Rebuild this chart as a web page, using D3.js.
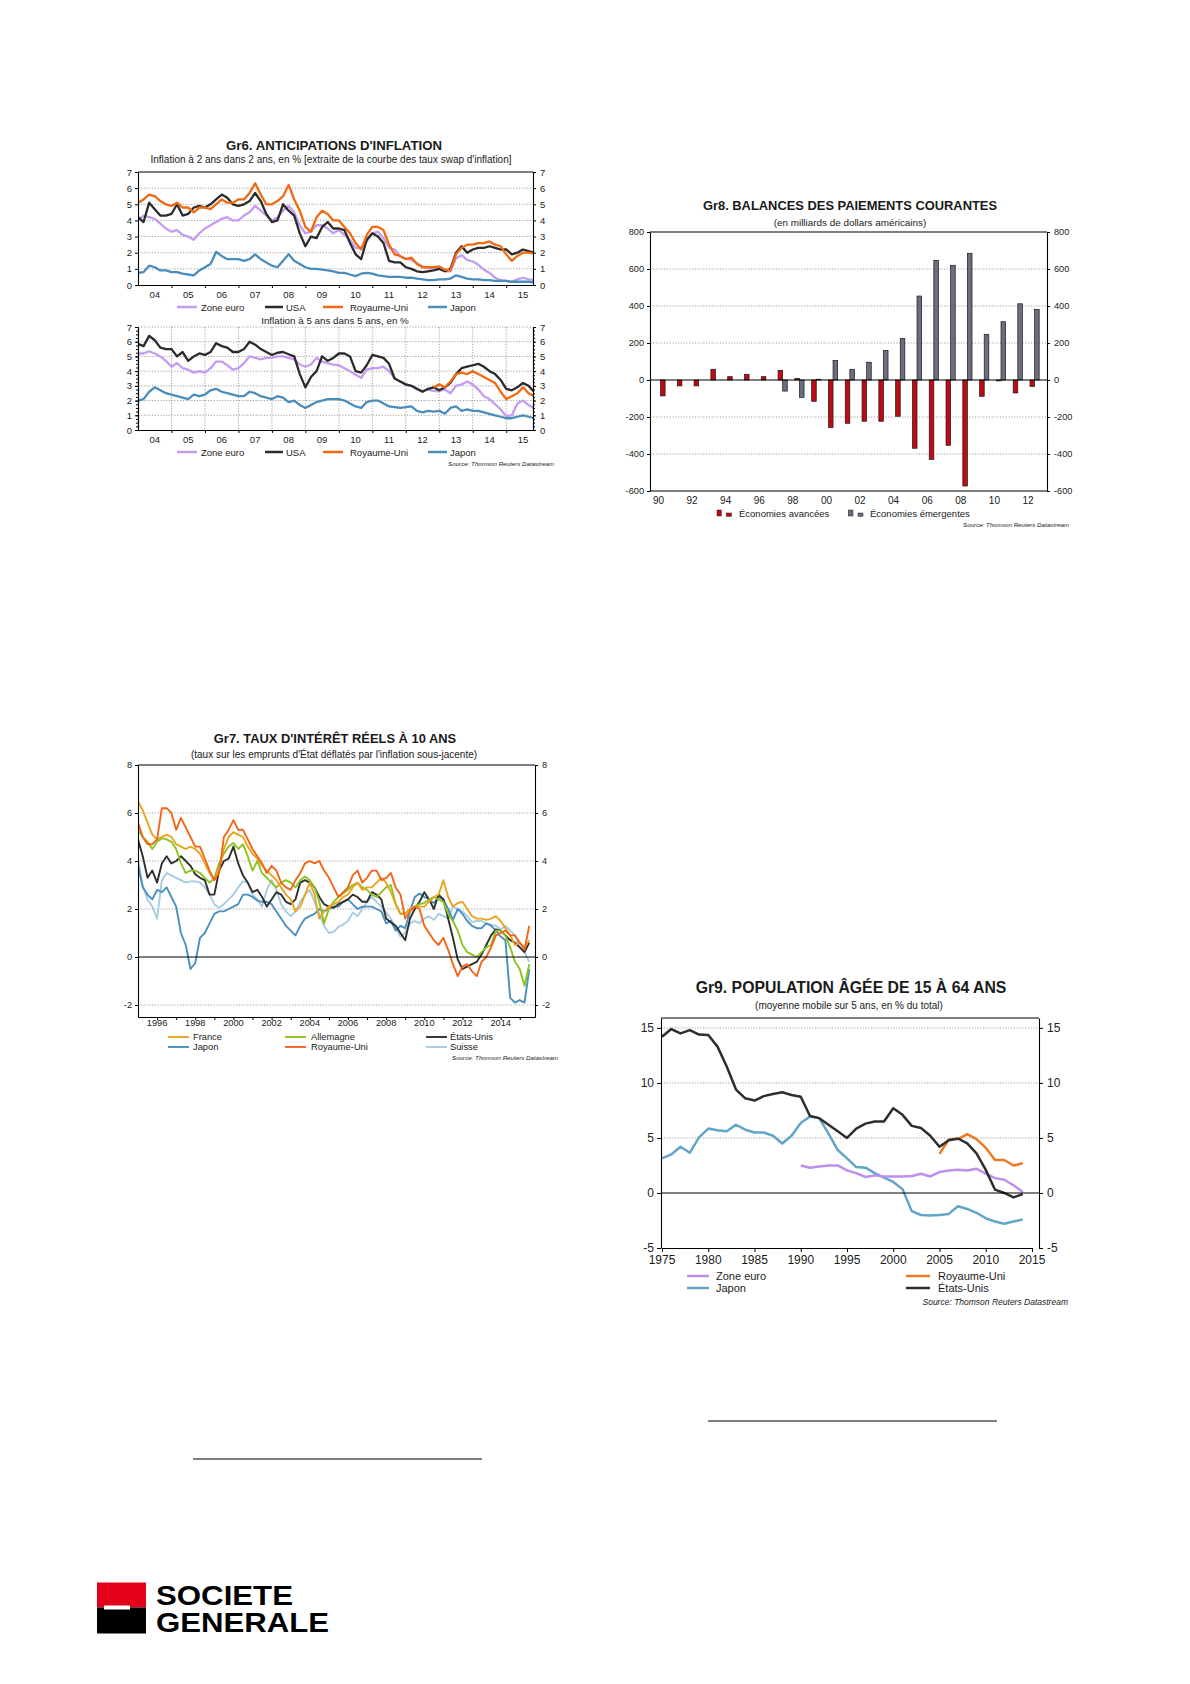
<!DOCTYPE html>
<html>
<head>
<meta charset="utf-8">
<script src="https://cdn.jsdelivr.net/npm/d3@7"></script>
<style>
body { margin: 0; background: #fff; }
svg { display: block; }
</style>
</head>
<body>
<svg id="page" width="1190" height="1684"></svg>
<script>
var FONT = '"Liberation Sans", Arial, Helvetica, sans-serif';
var svg = d3.select('#page');
svg.append('rect').attr('width', 1190).attr('height', 1684).attr('fill', '#fff');

// ---------------- Gr6 data : bimonthly points, Jan 2004 -> Nov 2015
var gr6Start = 2004, gr6Step = 1 / 6;
var gr6Names = ['Zone euro', 'USA', 'Royaume-Uni', 'Japon'];
var gr6Colors = ['#C49CF2', '#2B2B2B', '#F26A10', '#4A8DBB'];
var gr6YearLabels = ['04', '05', '06', '07', '08', '09', '10', '11', '12', '13', '14', '15'];

// inflation 2 ans dans 2 ans
var gr6TopEuro = [4.0, 4.3, 4.2, 4.1, 3.8, 3.5, 3.3, 3.4, 3.1, 3.0, 2.8, 3.2, 3.5, 3.7, 3.9, 4.1, 4.2, 4.0,
  4.0, 4.3, 4.5, 4.9, 4.6, 4.3, 4.0, 4.2, 4.6, 4.9, 4.5, 3.7, 3.2, 3.3, 3.7, 3.7, 3.5, 3.2,
  3.4, 3.1, 2.8, 2.3, 2.3, 2.7, 3.2, 3.3, 2.9, 2.3, 2.2, 1.75, 1.65, 1.55, 1.35, 1.15, 1.05, 1.05,
  1.05, 0.85, 0.85, 1.65, 1.85, 1.55, 1.45, 1.25, 0.95, 0.75, 0.45, 0.3, 0.25, 0.2, 0.35, 0.45, 0.35, 0.3];
var gr6TopUsa = [4.2, 3.9, 5.1, 4.7, 4.3, 4.3, 4.4, 5.0, 4.3, 4.4, 4.8, 4.9, 4.8, 5.0, 5.3, 5.6, 5.4, 5.0,
  4.9, 5.0, 5.2, 5.7, 5.2, 4.4, 3.9, 4.0, 5.0, 4.6, 4.3, 3.2, 2.4, 3.0, 2.9, 3.6, 3.9, 3.5,
  3.5, 3.4, 2.6, 1.9, 1.6, 2.8, 3.2, 3.0, 2.6, 1.5, 1.4, 1.4, 1.1, 1.0, 0.85, 0.8, 0.85, 0.9,
  1.0, 0.85, 1.0, 2.0, 2.4, 2.0, 2.2, 2.3, 2.3, 2.4, 2.3, 2.2, 2.2, 1.9, 2.0, 2.2, 2.1, 2.0];
var gr6TopUk = [5.1, 5.3, 5.6, 5.5, 5.2, 5.0, 4.9, 5.1, 4.8, 4.8, 4.5, 4.8, 4.8, 4.7, 5.0, 5.3, 5.1, 5.1,
  5.3, 5.3, 5.7, 6.3, 5.6, 5.0, 5.0, 5.2, 5.5, 6.2, 5.3, 4.6, 3.6, 3.3, 4.2, 4.6, 4.4, 4.0,
  4.0, 3.6, 3.2, 2.6, 2.2, 3.1, 3.6, 3.6, 3.4, 2.5, 1.9, 1.8, 1.6, 1.7, 1.3, 1.1, 1.1, 1.1,
  1.15, 0.95, 0.9, 1.9, 2.3, 2.5, 2.5, 2.6, 2.6, 2.7, 2.5, 2.4, 1.9, 1.5, 1.8, 2.0, 2.0, 1.95];
var gr6TopJapon = [0.75, 0.8, 1.2, 1.1, 0.9, 0.9, 0.8, 0.8, 0.7, 0.65, 0.6, 0.9, 1.1, 1.3, 2.05, 1.8, 1.6, 1.6,
  1.6, 1.5, 1.6, 1.9, 1.6, 1.4, 1.2, 1.1, 1.5, 1.9, 1.5, 1.3, 1.1, 1.0, 1.0, 0.95, 0.9, 0.85,
  0.75, 0.75, 0.65, 0.55, 0.7, 0.75, 0.7, 0.6, 0.55, 0.5, 0.5, 0.5, 0.45, 0.45, 0.4, 0.35, 0.3, 0.3,
  0.35, 0.35, 0.4, 0.6, 0.5, 0.4, 0.35, 0.35, 0.3, 0.3, 0.25, 0.25, 0.25, 0.2, 0.2, 0.2, 0.2, 0.15];

// inflation 5 ans dans 5 ans
var gr6BotEuro = [5.2, 5.2, 5.35, 5.2, 5.0, 4.7, 4.3, 4.55, 4.2, 4.1, 3.9, 4.0, 3.9, 4.2, 4.65, 4.65, 4.4, 4.1,
  4.2, 4.55, 5.0, 4.9, 4.8, 4.9, 4.9, 5.0, 5.0, 4.9, 4.8, 4.45, 4.3, 4.45, 4.9, 4.65, 4.55, 4.45,
  4.4, 4.2, 4.0, 3.75, 3.55, 4.1, 4.2, 4.2, 4.3, 4.0, 3.5, 3.3, 3.1, 3.0, 2.75, 2.65, 2.75, 2.65,
  2.65, 2.75, 2.5, 3.0, 3.1, 3.3, 3.1, 2.75, 2.3, 2.1, 1.75, 1.4, 0.95, 1.0, 1.8, 2.0, 1.7, 1.5];
var gr6BotUsa = [5.85, 5.7, 6.4, 6.1, 5.6, 5.5, 5.5, 5.0, 5.3, 4.7, 5.0, 5.2, 5.1, 5.3, 5.9, 5.7, 5.6, 5.3,
  5.3, 5.5, 6.0, 5.8, 5.5, 5.3, 5.1, 5.25, 5.3, 5.15, 5.0, 3.8, 2.9, 3.6, 4.0, 5.0, 4.7, 4.9,
  5.2, 5.2, 5.0, 4.0, 3.9, 4.4, 5.1, 5.0, 4.9, 4.5, 3.5, 3.3, 3.1, 3.0, 2.8, 2.6, 2.8, 2.9,
  2.7, 2.9, 3.2, 3.8, 4.2, 4.3, 4.4, 4.5, 4.3, 4.0, 3.8, 3.4, 2.8, 2.7, 2.9, 3.2, 3.0, 2.6];
var gr6BotUk = [null, null, null, null, null, null, null, null, null, null, null, null, null, null, null, null, null, null,
  null, null, null, null, null, null, null, null, null, null, null, null, null, null, null, null, null, null,
  null, null, null, null, null, null, null, null, null, null, null, null, null, null, null, null, null, 2.9,
  3.1, 2.9, 3.3, 3.8, 3.9, 3.8, 4.0, 3.8, 3.6, 3.4, 3.2, 2.6, 2.1, 2.3, 2.5, 2.9, 2.5, 2.3];
var gr6BotJapon = [2.0, 2.1, 2.6, 2.9, 2.7, 2.5, 2.4, 2.3, 2.2, 2.1, 2.4, 2.3, 2.4, 2.7, 2.8, 2.6, 2.5, 2.4,
  2.3, 2.3, 2.6, 2.5, 2.3, 2.2, 2.1, 2.3, 2.2, 1.9, 2.0, 1.7, 1.5, 1.7, 1.9, 2.0, 2.1, 2.1,
  2.1, 2.0, 1.8, 1.6, 1.5, 1.9, 2.0, 2.0, 1.8, 1.6, 1.55, 1.5, 1.55, 1.6, 1.3, 1.2, 1.3, 1.25,
  1.3, 1.1, 1.5, 1.6, 1.3, 1.4, 1.3, 1.3, 1.2, 1.1, 1.0, 0.9, 0.8, 0.8, 0.9, 1.0, 0.9, 0.8];

// ---------------- Gr7 data : quarterly, 1995Q1 -> 2015Q3
var gr7Start = 1995, gr7Step = 0.25;
var gr7Names = ['France', 'Japon', 'Allemagne', 'Royaume-Uni', 'États-Unis', 'Suisse'];
var gr7Colors = ['#E9A31F', '#4A90BE', '#8CC31E', '#F2651A', '#2F2F2F', '#A6CBE2'];
var gr7France = [6.5, 6.1, 5.6, 5.1, 4.9, 5.0, 5.1, 5.0, 4.7, 4.6, 4.5, 4.6, 4.5, 4.3, 3.9, 3.5,
  3.2, 3.7, 4.5, 5.0, 5.2, 5.1, 5.0, 4.6, 4.3, 4.1, 3.8, 3.6, 3.4, 3.2, 2.9, 2.6,
  2.4, 1.9, 2.1, 2.6, 3.1, 2.6, 1.6, 1.9, 2.1, 2.2, 2.3, 2.5, 2.6, 2.9, 3.1, 2.8,
  2.9, 2.9, 3.1, 3.3, 3.1, 2.7, 2.2, 1.8, 1.8, 2.0, 2.1, 2.1, 2.1, 2.3, 2.5, 2.6,
  3.2, 2.5, 2.1, 2.25, 2.3, 2.0, 1.7, 1.6, 1.6, 1.55, 1.6, 1.7, 1.5, 1.2, 0.9, 0.5,
  0.6, 0.4, 0.7];
var gr7Japon = [3.8, 2.9, 2.6, 2.4, 2.8, 2.7, 2.9, 2.5, 2.1, 1.0, 0.5, -0.5, -0.25, 0.8, 1.0, 1.4,
  1.8, 1.9, 1.9, 2.0, 2.1, 2.2, 2.6, 2.6, 2.5, 2.35, 2.3, 2.3, 2.2, 1.9, 1.6, 1.3,
  1.1, 0.9, 1.3, 1.6, 1.7, 1.8, 2.0, 1.9, 2.0, 2.1, 2.1, 2.3, 2.4, 2.2, 2.0, 2.1,
  2.1, 2.1, 2.0, 1.9, 1.4, 1.5, 1.1, 1.3, 1.2, 1.9, 2.5, 2.65, 2.5, 2.4, 2.25, 2.5,
  2.4, 2.0, 1.55, 2.0, 1.8, 1.5, 1.3, 1.2, 1.2, 1.4, 1.3, 1.1, 0.85, 0.7, -1.7, -1.9,
  -1.8, -1.9, -0.5];
var gr7Allemagne = [5.3, 5.0, 4.8, 4.5, 4.8, 4.95, 4.9, 4.8, 4.5, 3.9, 3.5, 3.6, 3.6, 3.5, 3.3, 3.1,
  3.3, 3.9, 4.3, 4.6, 4.75, 4.5, 4.7, 4.2, 3.6, 4.0, 3.5, 3.3, 3.1, 2.9, 3.1, 3.2,
  3.1, 2.9, 3.2, 3.35, 3.2, 2.9, 2.3, 1.4, 2.0, 2.3, 2.5, 2.65, 2.8, 3.0, 3.1, 2.9,
  2.8, 2.6, 2.5, 2.7, 2.9, 3.0, 2.2, 1.8, 1.8, 2.0, 2.1, 2.2, 2.25, 2.4, 2.5, 2.4,
  2.3, 1.8, 1.5, 1.1, 0.5, 0.2, 0.1, 0.0, 0.2, 0.4, 0.5, 1.1, 1.1, 0.9, 0.4, -0.2,
  -0.5, -1.2, -0.3];
var gr7RoyaumeUni = [5.6, 5.0, 4.7, 4.7, 4.9, 6.2, 6.2, 6.0, 5.3, 5.8, 5.4, 5.0, 4.6, 4.6, 4.1, 3.6,
  3.2, 3.5, 5.0, 5.3, 5.7, 5.3, 5.3, 4.9, 4.5, 4.2, 3.9, 3.5, 3.8, 3.6, 3.1, 2.9,
  2.8, 3.2, 3.5, 3.9, 4.0, 3.9, 4.0, 3.6, 3.3, 2.9, 2.5, 2.7, 2.9, 3.4, 3.6, 3.1,
  3.3, 3.6, 3.6, 3.2, 3.3, 3.5, 2.9, 2.6, 1.6, 1.9, 2.1, 2.0, 1.3, 1.0, 0.7, 0.5,
  0.8, 0.3, -0.3, -0.8, -0.4, -0.3, -0.6, -0.8, -0.2, 0.0, 0.4, 0.9, 1.0, 1.1, 0.9, 0.9,
  0.6, 0.3, 1.3];
var gr7EtatsUnis = [4.9, 4.2, 3.3, 3.6, 3.1, 3.9, 4.2, 3.9, 4.0, 4.2, 4.0, 3.8, 3.45, 3.3, 3.2, 2.6,
  2.6, 3.6, 4.0, 4.1, 4.6, 3.9, 3.4, 3.1, 2.7, 2.8, 2.5, 2.1, 2.4, 2.7, 2.6, 2.3,
  2.2, 2.4, 3.1, 3.2, 3.1, 2.9, 2.5, 2.2, 2.1, 2.05, 2.2, 2.3, 2.4, 2.6, 2.5, 2.3,
  2.3, 2.7, 2.6, 2.4, 1.6, 1.45, 1.3, 1.0, 0.7, 1.6, 2.0, 2.3, 2.7, 2.4, 2.0, 2.6,
  2.4, 1.6, 0.8, -0.1, -0.5, -0.4, -0.3, -0.2, 0.1, 0.5, 0.9, 1.15, 1.1, 0.9, 0.7, 0.6,
  0.4, 0.2, 0.6];
var gr7Suisse = [4.05, 3.0, 2.4, 2.1, 1.6, 3.2, 3.5, 3.4, 3.3, 3.2, 3.1, 3.15, 3.15, 3.1, 2.9, 2.6,
  2.2, 2.05, 2.2, 2.4, 2.6, 2.9, 3.15, 3.1, 2.6, 2.4, 2.1, 2.8, 3.2, 2.8, 2.2, 1.9,
  1.7, 1.9, 2.3, 2.6, 2.8, 2.3, 1.8, 1.3, 1.0, 1.05, 1.25, 1.35, 1.5, 1.85, 1.7, 2.0,
  2.3, 2.5, 2.3, 2.1, 1.85, 1.6, 1.2, 0.85, 1.0, 1.4, 1.5, 1.4, 1.6, 1.7, 1.55, 1.8,
  1.7, 1.6, 2.1, 2.0, 1.9, 1.7, 1.45, 1.5, 1.5, 1.4, 1.35, 1.3, 1.15, 1.3, 1.1, 0.9,
  0.4, 0.2, -0.2];

// ---------------- Gr8 data : annual, en milliards de dollars
var gr8Years = d3.range(1990, 2013);
var gr8Avancees = [-86, -32, -32, 58, 18, 31, 18, 52, 9, -115, -256, -234, -223, -223, -196, -369, -429, -353, -573, -88, -5, -70, -35];
var gr8Emergentes = [0, 0, 0, 0, 0, 0, 0, -60, -94, 4, 106, 58, 96, 160, 225, 454, 647, 620, 685, 247, 315, 412, 382];
var gr8YearLabels = ['90', '92', '94', '96', '98', '00', '02', '04', '06', '08', '10', '12'];

// ---------------- Gr9 data : annual
var gr9UsaStart = 1975;
var gr9Usa = [14.2, 14.9, 14.5, 14.8, 14.4, 14.35, 13.3, 11.5, 9.4, 8.6,
  8.4, 8.8, 9.0, 9.15, 8.9, 8.75, 7.0, 6.8, 6.2, 5.6,
  5.0, 5.85, 6.3, 6.5, 6.5, 7.7, 7.1, 6.1, 5.9, 5.2,
  4.2, 4.8, 4.95, 4.5, 3.6, 2.1, 0.3, 0.0, -0.4, -0.1];
var gr9JaponStart = 1975;
var gr9Japon = [3.15, 3.5, 4.2, 3.65, 5.05, 5.85, 5.7, 5.6, 6.2, 5.75,
  5.5, 5.5, 5.2, 4.5, 5.2, 6.35, 6.95, 6.8, 5.4, 3.9,
  3.15, 2.35, 2.3, 1.8, 1.4, 1.0, 0.35, -1.65, -2.0, -2.05,
  -2.0, -1.9, -1.2, -1.45, -1.8, -2.3, -2.6, -2.8, -2.6, -2.4];
var gr9EuroStart = 1990;
var gr9Euro = [2.5, 2.3, 2.4, 2.5, 2.5, 2.05, 1.8, 1.45, 1.6, 1.5,
  1.5, 1.5, 1.55, 1.75, 1.5, 1.9, 2.05, 2.1, 2.05, 2.2,
  1.75, 1.35, 1.2, 0.7, 0.1];
var gr9UkStart = 2005;
var gr9Uk = [3.55, 4.85, 4.9, 5.35, 4.9, 4.1, 3.0, 3.0, 2.5, 2.7];
var gr9XTicks = [1975, 1980, 1985, 1990, 1995, 2000, 2005, 2010, 2015];

// ---------------- helpers
function txt(x, y, s, size, opts) {
  opts = opts || {};
  var t = svg.append('text').attr('x', x).attr('y', y).text(s)
    .attr('font-size', size).attr('font-family', FONT)
    .attr('text-anchor', opts.anchor || 'middle')
    .attr('dominant-baseline', 'central')
    .attr('fill', opts.fill || '#1a1a1a');
  if (opts.bold) t.attr('font-weight', 'bold');
  if (opts.italic) t.attr('font-style', 'italic');
  return t;
}

function line(x1, y1, x2, y2, opts) {
  opts = opts || {};
  var l = svg.append('line').attr('x1', x1).attr('y1', y1).attr('x2', x2).attr('y2', y2)
    .attr('stroke', opts.color || '#000').attr('stroke-width', opts.width || 1);
  if (opts.dotted) l.attr('stroke', '#8a8a8a').attr('stroke-width', 0.8).attr('stroke-dasharray', '1.2,1.6');
  return l;
}

function styleAxis(a, size) {
  a.attr('font-family', FONT).attr('font-size', size);
  a.select('.domain').attr('stroke', '#000').attr('stroke-width', 1.1);
  a.selectAll('.tick line').attr('stroke', '#000');
  a.selectAll('.tick text').attr('fill', '#222');
  return a;
}

function yAxes(y, xl, xr, ticks, size, tickLen) {
  var fmt = function (d) { return String(d); };
  var al = svg.append('g').attr('transform', 'translate(' + xl + ',0)')
    .call(d3.axisLeft(y).tickValues(ticks).tickSize(tickLen).tickSizeOuter(0).tickPadding(3).tickFormat(fmt));
  var ar = svg.append('g').attr('transform', 'translate(' + xr + ',0)')
    .call(d3.axisRight(y).tickValues(ticks).tickSize(tickLen).tickSizeOuter(0).tickPadding(4).tickFormat(fmt));
  styleAxis(al, size);
  styleAxis(ar, size);
}

var clipCount = 0;
function clipRect(x0, y0, x1, y1) {
  var id = 'clip' + (clipCount++);
  svg.append('clipPath').attr('id', id).append('rect')
    .attr('x', x0).attr('y', y0 - 3).attr('width', x1 - x0).attr('height', y1 - y0 + 6);
  return id;
}

function drawSeries(x, y, start, step, values, color, width, clipId) {
  var pts = values.map(function (v, i) { return { t: start + i * step, v: v }; });
  var gen = d3.line().defined(function (d) { return d.v !== null; })
    .x(function (d) { return x(d.t); }).y(function (d) { return y(d.v); });
  svg.append('path').datum(pts).attr('d', gen)
    .attr('fill', 'none').attr('stroke', color).attr('stroke-width', width)
    .attr('stroke-linejoin', 'round').attr('clip-path', 'url(#' + clipId + ')');
}

function legendItem(x1, x2, tx, y, color, label, size, width) {
  line(x1, y, x2, y, { color: color, width: width });
  txt(tx, y, label, size, { anchor: 'start' });
}

// ================= Gr6
var g6L = 138, g6R = 533;
var g6x = d3.scaleLinear().domain([2004, 2015.8]).range([g6L, g6R]);

function gr6Panel(y0, y1, data, minor) {
  var y = d3.scaleLinear().domain([0, 7]).range([y1, y0]);
  var gridVals = minor ? [1, 2, 3, 4, 5, 6, 7] : [1, 2, 3, 4, 5, 6];
  gridVals.forEach(function (v) { line(g6L, y(v), g6R, y(v), { dotted: true }); });
  if (minor) {
    d3.range(2005, 2016).forEach(function (t) { line(g6x(t), y0, g6x(t), y1, { dotted: true }); });
  } else {
    line(g6L, y0, g6R, y0, { width: 1.1 });
  }
  var cid = clipRect(g6L, y0, g6R, y1);
  data.forEach(function (vals, i) {
    drawSeries(g6x, y, gr6Start, gr6Step, vals, gr6Colors[i], 2.3, cid);
  });
  yAxes(y, g6L, g6R, d3.range(0, 8), 9.5, 3);
  if (minor) {
    var mt = d3.range(0, 7.01, 0.25);
    styleAxis(svg.append('g').attr('transform', 'translate(' + g6L + ',0)')
      .call(d3.axisLeft(y).tickValues(mt).tickSize(2).tickSizeOuter(0).tickFormat('')), 9);
    styleAxis(svg.append('g').attr('transform', 'translate(' + g6R + ',0)')
      .call(d3.axisRight(y).tickValues(mt).tickSize(2).tickSizeOuter(0).tickFormat('')), 9);
  }
  var ax = svg.append('g').attr('transform', 'translate(0,' + y1 + ')')
    .call(d3.axisBottom(g6x).tickValues(d3.range(2005, 2016)).tickSize(3).tickSizeOuter(0).tickFormat(''));
  styleAxis(ax, 9.5);
  gr6YearLabels.forEach(function (lab, i) {
    txt(g6x(2004.5 + i), y1 + 9.5, lab, 9.5);
  });
}

txt(334, 145, "Gr6. ANTICIPATIONS D'INFLATION", 13.2, { bold: true });
txt(331, 159, "Inflation à 2 ans dans 2 ans, en % [extraite de la courbe des taux swap d'inflation]", 10);
gr6Panel(172, 285, [gr6TopEuro, gr6TopUsa, gr6TopUk, gr6TopJapon], false);

var g6LegX = [[177, 197, 201], [265, 283, 286], [323, 343, 350], [428, 447, 450]];
function gr6Legend(y) {
  gr6Names.forEach(function (n, i) {
    legendItem(g6LegX[i][0], g6LegX[i][1], g6LegX[i][2], y, gr6Colors[i], n, 9.5, 2.5);
  });
}
gr6Legend(307);
txt(335, 320, 'Inflation à 5 ans dans 5 ans, en %', 9.8);
gr6Panel(327, 430, [gr6BotEuro, gr6BotUsa, gr6BotUk, gr6BotJapon], true);
gr6Legend(452);
txt(554, 463, 'Source: Thomson Reuters Datastream', 6.2, { anchor: 'end', italic: true });

// ================= Gr8
var g8L = 650, g8R = 1047;
var g8y = d3.scaleLinear().domain([-600, 800]).range([491, 232]);
var g8x = d3.scaleLinear().domain([1990, 2012]).range([660.5, 1030]);
var barW = 4.6;

txt(850, 205, 'Gr8. BALANCES DES PAIEMENTS COURANTES', 12.9, { bold: true });
txt(850, 222, '(en milliards de dollars américains)', 9.9);
[600, 400, 200, -200, -400].forEach(function (v) { line(g8L, g8y(v), g8R, g8y(v), { dotted: true }); });

svg.append('g').selectAll('rect.adv').data(gr8Years).join('rect')
  .attr('x', function (d) { return g8x(d); })
  .attr('y', function (d, i) { return g8y(Math.max(0, gr8Avancees[i])); })
  .attr('width', barW)
  .attr('height', function (d, i) { return Math.abs(g8y(gr8Avancees[i]) - g8y(0)); })
  .attr('fill', '#BE0A14').attr('stroke', '#1a1a1a').attr('stroke-width', 0.7);
svg.append('g').selectAll('rect.emg').data(gr8Years.filter(function (d, i) { return gr8Emergentes[i] !== 0; })).join('rect')
  .attr('x', function (d) { return g8x(d) + barW; })
  .attr('y', function (d) { return g8y(Math.max(0, gr8Emergentes[d - 1990])); })
  .attr('width', barW)
  .attr('height', function (d) { return Math.abs(g8y(gr8Emergentes[d - 1990]) - g8y(0)); })
  .attr('fill', '#6B6D80').attr('stroke', '#1a1a1a').attr('stroke-width', 0.7);

line(g8L, g8y(0), g8R, g8y(0), { width: 1.2 });
line(g8L, g8y(800), g8R, g8y(800), { width: 1.1 });
line(g8L, g8y(-600), g8R, g8y(-600), { width: 1.1 });
yAxes(g8y, g8L, g8R, [-600, -400, -200, 0, 200, 400, 600, 800], 9.2, 3);
gr8YearLabels.forEach(function (lab, i) {
  txt(g8x(1990 + 2 * i) - 2, 500, lab, 10);
});
svg.append('rect').attr('x', 717).attr('y', 510).attr('width', 4.3).attr('height', 6).attr('fill', '#BE0A14').attr('stroke', '#222').attr('stroke-width', 0.5);
svg.append('rect').attr('x', 726.3).attr('y', 513).attr('width', 5.3).attr('height', 3.3).attr('fill', '#BE0A14').attr('stroke', '#222').attr('stroke-width', 0.5);
txt(739, 513, 'Économies avancées', 9.5, { anchor: 'start' });
svg.append('rect').attr('x', 848.3).attr('y', 510).attr('width', 4.7).attr('height', 6).attr('fill', '#6B6D80').attr('stroke', '#222').attr('stroke-width', 0.5);
svg.append('rect').attr('x', 858).attr('y', 513).attr('width', 5).attr('height', 3.3).attr('fill', '#6B6D80').attr('stroke', '#222').attr('stroke-width', 0.5);
txt(870, 513, 'Économies émergentes', 9.5, { anchor: 'start' });
txt(1069, 524, 'Source: Thomson Reuters Datastream', 6.2, { anchor: 'end', italic: true });

// ================= Gr7
var g7L = 138, g7R = 535;
var g7x = d3.scaleLinear().domain([1995, 2015.8]).range([g7L, g7R]);
var g7y = d3.scaleLinear().domain([-2.5, 8]).range([1017, 765]);

txt(335, 738, "Gr7. TAUX D'INTÉRÊT RÉELS À 10 ANS", 12.9, { bold: true });
txt(334, 754, "(taux sur les emprunts d'État déflatés par l'inflation sous-jacente)", 10);
[6, 4, 2, -2].forEach(function (v) { line(g7L, g7y(v), g7R, g7y(v), { dotted: true }); });
var cid7 = clipRect(g7L, 765, g7R, 1017);
var gr7Data = [gr7Suisse, gr7Japon, gr7EtatsUnis, gr7Allemagne, gr7France, gr7RoyaumeUni];
var gr7Col = [gr7Colors[5], gr7Colors[1], gr7Colors[4], gr7Colors[2], gr7Colors[0], gr7Colors[3]];
gr7Data.forEach(function (vals, i) {
  drawSeries(g7x, g7y, gr7Start, gr7Step, vals, gr7Col[i], 1.9, cid7);
});
line(g7L, g7y(0), g7R, g7y(0), { width: 1.1 });
line(g7L, g7y(8), g7R, g7y(8), { width: 1.1 });
yAxes(g7y, g7L, g7R, [-2, 0, 2, 4, 6, 8], 9.2, 3);
styleAxis(svg.append('g').attr('transform', 'translate(0,' + g7y(-2.5) + ')')
  .call(d3.axisBottom(g7x).tickValues(d3.range(1996, 2016)).tickSize(3).tickSizeOuter(0).tickFormat('')), 9.2);
d3.range(1996, 2015, 2).forEach(function (yr) { txt(g7x(yr), 1022.5, String(yr), 9.2); });

var g7Leg = [[168, 189, 193, 1037], [168, 189, 193, 1047], [285, 306, 311, 1037], [285, 306, 311, 1047], [426, 447, 450, 1037], [426, 447, 450, 1047]];
gr7Names.forEach(function (n, i) {
  legendItem(g7Leg[i][0], g7Leg[i][1], g7Leg[i][2], g7Leg[i][3], gr7Colors[i], n, 9.3, 1.9);
});
txt(558, 1057, 'Source: Thomson Reuters Datastream', 6.2, { anchor: 'end', italic: true });

// ================= Gr9
var g9L = 661, g9R = 1039;
var g9x = d3.scaleLinear().domain([1975, 2015]).range([662, 1032]);
var g9y = d3.scaleLinear().domain([-5, 15.9]).range([1248, 1018]);

txt(851, 987, 'Gr9. POPULATION ÂGÉE DE 15 À 64 ANS', 15.8, { bold: true });
txt(849, 1005, '(moyenne mobile sur 5 ans, en % du total)', 10);
[15, 10, 5].forEach(function (v) { line(g9L, g9y(v), g9R, g9y(v), { dotted: true }); });
var cid9 = clipRect(g9L, 1018, g9R, 1248);
drawSeries(g9x, g9y, gr9JaponStart, 1, gr9Japon, '#62A5C9', 2.5, cid9);
drawSeries(g9x, g9y, gr9EuroStart, 1, gr9Euro, '#BF8FF0', 2.5, cid9);
drawSeries(g9x, g9y, gr9UkStart, 1, gr9Uk, '#F07A24', 2.5, cid9);
drawSeries(g9x, g9y, gr9UsaStart, 1, gr9Usa, '#2E2E2E', 2.5, cid9);
line(g9L, g9y(0), g9R, g9y(0), { width: 1.1 });
line(g9L, 1018, g9R, 1018, { width: 1.1 });
yAxes(g9y, g9L, g9R, [-5, 0, 5, 10, 15], 12, 4);
styleAxis(svg.append('g').attr('transform', 'translate(0,1248)')
  .call(d3.axisBottom(g9x).tickValues(gr9XTicks).tickSize(4).tickSizeOuter(0).tickFormat('')), 12);
gr9XTicks.forEach(function (yr) { txt(g9x(yr), 1260, String(yr), 12); });
legendItem(687, 709, 716, 1276, '#BF8FF0', 'Zone euro', 11, 2.5);
legendItem(687, 709, 716, 1288, '#62A5C9', 'Japon', 11, 2.5);
legendItem(906, 930, 938, 1276, '#F07A24', 'Royaume-Uni', 11, 2.5);
legendItem(906, 930, 938, 1288, '#2E2E2E', 'États-Unis', 11, 2.5);
txt(1068, 1302, 'Source: Thomson Reuters Datastream', 8.5, { anchor: 'end', italic: true });

// ================= footnote rules and logo
line(193, 1459, 482, 1459, { width: 1 });
line(708, 1421, 997, 1421, { width: 1 });

svg.append('rect').attr('x', 97).attr('y', 1582.5).attr('width', 49).attr('height', 25).attr('fill', '#E2001A');
svg.append('rect').attr('x', 97).attr('y', 1607.5).attr('width', 49).attr('height', 26).attr('fill', '#000');
svg.append('rect').attr('x', 104).attr('y', 1605.5).attr('width', 26).attr('height', 4).attr('fill', '#fff');
svg.append('text').attr('x', 156).attr('y', 1605).text('SOCIETE')
  .attr('font-family', FONT).attr('font-weight', 'bold').attr('font-size', 27)
  .attr('textLength', 137).attr('lengthAdjust', 'spacingAndGlyphs');
svg.append('text').attr('x', 156).attr('y', 1632).text('GENERALE')
  .attr('font-family', FONT).attr('font-weight', 'bold').attr('font-size', 27)
  .attr('textLength', 173).attr('lengthAdjust', 'spacingAndGlyphs');
</script>
</body>
</html>
